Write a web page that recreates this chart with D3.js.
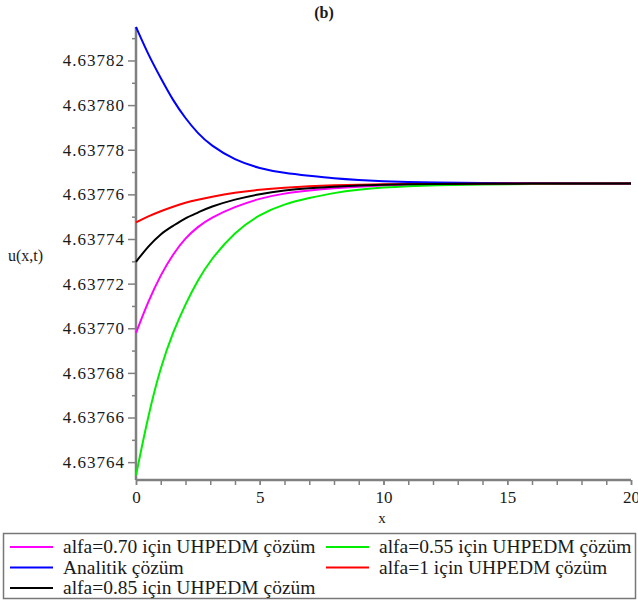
<!DOCTYPE html>
<html>
<head>
<meta charset="utf-8">
<script src="https://cdn.jsdelivr.net/npm/d3@7"></script>
<style>
  body { margin: 0; background: #fff; }
  svg { display: block; }
  text { font-family: "Liberation Serif", "Times New Roman", serif; fill: #1a1a1a; }
</style>
</head>
<body>
<div id="chart"></div>
<script>
// ---- data ----
const xs = [0, 0.5, 1, 1.5, 2, 2.5, 3, 4, 5, 6, 7, 8, 9, 10, 11, 12, 14, 16, 18, 20];
const alfa070 = [4.6376979, 4.6377122, 4.6377240, 4.6377333, 4.6377405, 4.6377455, 4.6377494, 4.6377545, 4.6377582, 4.6377605, 4.6377618, 4.6377628, 4.6377635, 4.6377640, 4.6377643, 4.6377645, 4.6377647, 4.6377648, 4.6377649, 4.6377649];
const alfa055 = [4.6376341, 4.6376613, 4.6376828, 4.6376984, 4.6377109, 4.6377216, 4.6377305, 4.6377433, 4.6377511, 4.6377557, 4.6377584, 4.6377607, 4.6377621, 4.6377631, 4.6377637, 4.6377641, 4.6377645, 4.6377647, 4.6377648, 4.6377649];
const analitik = [4.6378350, 4.6378225, 4.6378121, 4.6378020, 4.6377940, 4.6377873, 4.6377821, 4.6377752, 4.6377716, 4.6377695, 4.6377683, 4.6377671, 4.6377664, 4.6377659, 4.6377655, 4.6377653, 4.6377651, 4.6377650, 4.6377649, 4.6377649];
const alfa1 = [4.6377474, 4.6377502, 4.6377525, 4.6377545, 4.6377563, 4.6377576, 4.6377588, 4.6377608, 4.6377621, 4.6377630, 4.6377637, 4.6377641, 4.6377643, 4.6377645, 4.6377646, 4.6377647, 4.6377648, 4.6377649, 4.6377649, 4.6377649];
const alfa085 = [4.6377298, 4.6377368, 4.6377424, 4.6377459, 4.6377495, 4.6377518, 4.6377544, 4.6377578, 4.6377602, 4.6377618, 4.6377628, 4.6377635, 4.6377640, 4.6377643, 4.6377645, 4.6377646, 4.6377648, 4.6377648, 4.6377649, 4.6377649];

const seriesNames = ["alfa=0.70 için UHPEDM çözüm", "alfa=0.55 için UHPEDM çözüm", "Analitik çözüm", "alfa=1 için UHPEDM çözüm", "alfa=0.85 için UHPEDM çözüm"];
const seriesColors = ["#ff00ff", "#00ee00", "#0000ff", "#ff0000", "#000000"];
const seriesValues = [alfa070, alfa055, analitik, alfa1, alfa085];

const yMajorTicks = [4.63764, 4.63766, 4.63768, 4.63770, 4.63772, 4.63774, 4.63776, 4.63778, 4.63780, 4.63782];
const yMinorTicks = [4.63765, 4.63767, 4.63769, 4.63771, 4.63773, 4.63775, 4.63777, 4.63779, 4.63781, 4.63783];
const xMajorTicks = [0, 5, 10, 15, 20];
const xMinorTicks = d3.range(0, 21);

const titleText = "(b)";
const xLabel = "x";
const yLabel = "u(x,t)";

// ---- layout ----
const W = 638, H = 603;
const svg = d3.select("#chart").append("svg").attr("width", W).attr("height", H);

const x = d3.scaleLinear().domain([0, 20]).range([136, 631]);
const y = d3.scaleLinear().domain([4.637632, 4.637835]).range([480, 27]);

const axisColor = "#808080";

// y axis minor ticks
svg.append("g").attr("transform", `translate(${x(0)},0)`)
  .call(d3.axisLeft(y).tickValues(yMinorTicks).tickSize(4).tickFormat(""))
  .call(g => g.select(".domain").remove())
  .call(g => g.selectAll("line").attr("stroke", axisColor).attr("stroke-width", 1.5));
// y axis major ticks
svg.append("g").attr("transform", `translate(${x(0)},0)`)
  .call(d3.axisLeft(y).tickValues(yMajorTicks).tickSize(8).tickPadding(3).tickFormat(d3.format(".5f")))
  .call(g => g.select(".domain").remove())
  .call(g => g.selectAll("line").attr("stroke", axisColor).attr("stroke-width", 1.5))
  .call(g => g.selectAll("text").attr("font-size", 17).attr("letter-spacing", 1)
     .style("font-family", '"Liberation Serif", serif').attr("fill", "#1a1a1a"));

// x axis ticks
svg.append("g").attr("transform", `translate(0,${y.range()[0]})`)
  .call(d3.axisBottom(x).tickValues(xMinorTicks).tickSize(5).tickFormat(""))
  .call(g => g.select(".domain").remove())
  .call(g => g.selectAll("line").attr("stroke", axisColor).attr("stroke-width", 1.5));
svg.append("g").attr("transform", `translate(0,${y.range()[0]})`)
  .call(d3.axisBottom(x).tickValues(xMajorTicks).tickSize(5).tickPadding(6).tickFormat(d3.format("d")))
  .call(g => g.select(".domain").remove())
  .call(g => g.selectAll("line").attr("stroke", axisColor).attr("stroke-width", 1.5))
  .call(g => g.selectAll("text").attr("font-size", 17)
     .style("font-family", '"Liberation Serif", serif').attr("fill", "#1a1a1a"));

// axis lines
svg.append("line").attr("x1", x(0)).attr("x2", x(0)).attr("y1", y.range()[1]).attr("y2", y.range()[0])
  .attr("stroke", axisColor).attr("stroke-width", 2.5);
svg.append("line").attr("x1", x(0)).attr("x2", x(20)).attr("y1", y.range()[0]).attr("y2", y.range()[0])
  .attr("stroke", axisColor).attr("stroke-width", 2.5);

// curves
const line = d3.line().x((d, i) => x(xs[i])).y(d => y(d)).curve(d3.curveBasis);
seriesValues.forEach((vals, k) => {
  svg.append("path").datum(vals).attr("d", line)
    .attr("fill", "none").attr("stroke", seriesColors[k]).attr("stroke-width", 2);
});

// title and labels
svg.append("text").attr("x", 324).attr("y", 18).attr("text-anchor", "middle")
  .attr("font-size", 16).attr("font-weight", "bold").text(titleText);
svg.append("text").attr("x", 382).attr("y", 523).attr("text-anchor", "middle")
  .attr("font-size", 15).text(xLabel);
svg.append("text").attr("x", 8).attr("y", 261)
  .attr("font-size", 16).text(yLabel);

// legend
const legend = svg.append("g");
legend.append("rect").attr("x", 3.5).attr("y", 533.5).attr("width", 632).attr("height", 65)
  .attr("fill", "none").attr("stroke", "#777").attr("stroke-width", 1.5);
const legendPos = [
  {c: 10, r: 0}, {c: 326, r: 0}, {c: 10, r: 1}, {c: 326, r: 1}, {c: 10, r: 2}
];
seriesNames.forEach((name, k) => {
  const p = legendPos[k];
  const cy = 547 + p.r * 20.5;
  legend.append("line").attr("x1", p.c).attr("x2", p.c + 43).attr("y1", cy).attr("y2", cy)
    .attr("stroke", seriesColors[k]).attr("stroke-width", 2);
  legend.append("text").attr("x", p.c + 53).attr("y", cy + 6).attr("font-size", 19.5).text(name);
});
</script>
</body>
</html>
